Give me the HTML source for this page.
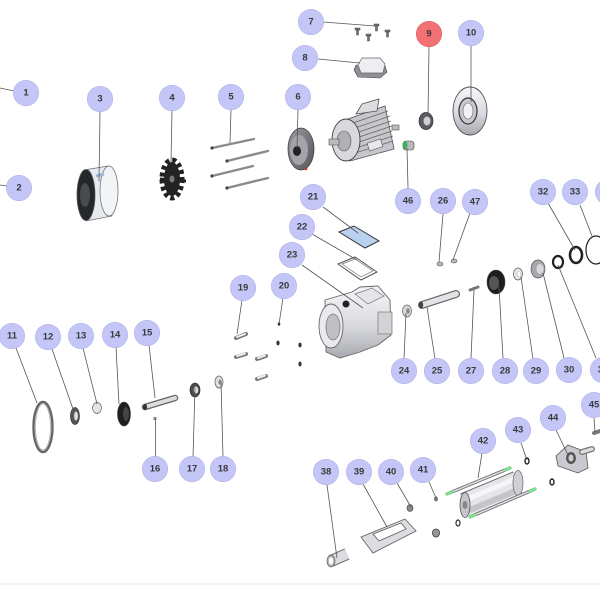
<!DOCTYPE html>
<html><head><meta charset="utf-8"><style>
html,body{margin:0;padding:0;background:#fff;}
svg{display:block;}
text{font-family:"Liberation Sans",sans-serif;font-weight:bold;font-size:9.5px;fill:#3a3a3a;text-anchor:middle;dominant-baseline:central;}
</style></head><body>
<svg width="600" height="600" viewBox="0 0 600 600" xmlns="http://www.w3.org/2000/svg">
<defs>
<linearGradient id="mv" x1="0" y1="0" x2="0" y2="1"><stop offset="0" stop-color="#f5f6f8"/><stop offset="0.55" stop-color="#d9dadf"/><stop offset="1" stop-color="#a8aab0"/></linearGradient>
<linearGradient id="dk" x1="0" y1="0" x2="1" y2="1"><stop offset="0" stop-color="#9a9ba0"/><stop offset="1" stop-color="#55565a"/></linearGradient>
</defs>
<rect width="600" height="600" fill="#fff"/>
<line x1="0" y1="584" x2="600" y2="584" stroke="#eeeeee" stroke-width="1.5"/>

<!-- Part 3 fan cover -->
<polygon points="84,170 108,166 112,216 86,221" fill="#e6ebf2" stroke="#666" stroke-width="0.7"/>
<ellipse cx="109" cy="191" rx="9" ry="25" fill="#f2f4f7" stroke="#777" stroke-width="0.8"/>
<ellipse cx="86" cy="195" rx="9" ry="25.5" fill="#26272b" stroke="#555" stroke-width="0.8"/>
<ellipse cx="85" cy="195" rx="5" ry="12" fill="#4a4b50"/>
<line x1="96" y1="176" x2="104" y2="174" stroke="#9fb6d8" stroke-width="3"/>

<!-- Part 4 fan -->
<ellipse cx="172" cy="179" rx="10" ry="19" fill="none" stroke="#222" stroke-width="5" stroke-dasharray="4 3"/>
<ellipse cx="172" cy="179" rx="8" ry="17" fill="#232326"/>
<line x1="160" y1="179" x2="186" y2="181" stroke="#232326" stroke-width="3"/>
<ellipse cx="172" cy="179" rx="2.5" ry="3.5" fill="#777"/>

<!-- Part 5 rods -->
<g stroke="#8a8b90" stroke-width="2.4" stroke-linecap="round">
<line x1="212" y1="148" x2="254" y2="139"/>
<line x1="227" y1="161" x2="268" y2="151"/>
<line x1="212" y1="176" x2="253" y2="166"/>
<line x1="227" y1="188" x2="268" y2="178"/>
</g>
<g fill="#444"><circle cx="212" cy="148" r="1.6"/><circle cx="227" cy="161" r="1.6"/><circle cx="212" cy="176" r="1.6"/><circle cx="227" cy="188" r="1.6"/></g>

<!-- Part 6 end shield -->
<ellipse cx="301" cy="149" rx="13" ry="21" fill="url(#dk)" stroke="#444" stroke-width="0.8"/>
<ellipse cx="299" cy="150" rx="9" ry="15" fill="#a3a4a9"/>
<ellipse cx="297" cy="151" rx="4" ry="5" fill="#222"/>
<circle cx="306" cy="169" r="1.3" fill="#c33"/>

<!-- Motor -->
<polygon points="345,120 385,106 394,149 350,161" fill="#c6c7cc" stroke="#555" stroke-width="0.8"/>
<g stroke="#666" stroke-width="0.8">
<line x1="350" y1="124" x2="388" y2="111"/><line x1="352" y1="129" x2="390" y2="116"/><line x1="353" y1="134" x2="391" y2="121"/><line x1="353" y1="139" x2="392" y2="126"/><line x1="353" y1="144" x2="392" y2="131"/><line x1="353" y1="149" x2="393" y2="136"/><line x1="352" y1="154" x2="393" y2="141"/>
</g>
<polygon points="356,114 362,104 379,99 377,111" fill="#dcdde1" stroke="#555" stroke-width="0.8"/>
<rect x="368" y="141" width="14" height="8" fill="#e8e8ea" stroke="#555" stroke-width="0.6" transform="rotate(-18 375 145)"/>
<ellipse cx="346" cy="140" rx="14" ry="21" fill="#d8d9dd" stroke="#444" stroke-width="0.9"/>
<ellipse cx="344" cy="141" rx="7" ry="10" fill="#b0b1b6" stroke="#555" stroke-width="0.6"/>
<rect x="329" y="139" width="10" height="6" fill="#bbb" stroke="#555" stroke-width="0.6"/>
<rect x="392" y="125" width="7" height="5" fill="#bbb" stroke="#555" stroke-width="0.6"/>

<!-- Part 7 screws -->
<g fill="#777" stroke="#444" stroke-width="0.5">
<rect x="355" y="28" width="5" height="2"/><rect x="356.5" y="30" width="2" height="5"/>
<rect x="366" y="34" width="5" height="2"/><rect x="367.5" y="36" width="2" height="5"/>
<rect x="374" y="24" width="5" height="2"/><rect x="375.5" y="26" width="2" height="5"/>
<rect x="385" y="30" width="5" height="2"/><rect x="386.5" y="32" width="2" height="5"/>
</g>

<!-- Part 8 terminal cover -->
<polygon points="354,70 356,65 385,66 387,72 380,78 358,77" fill="#8f9095" stroke="#444" stroke-width="0.6"/>
<polygon points="358,65 362,58 380,58 385,64 383,73 361,73" fill="#eceef1" stroke="#666" stroke-width="0.7"/>

<!-- Part 9 ring -->
<ellipse cx="426" cy="121" rx="7" ry="8.5" fill="#5a5b60" stroke="#333" stroke-width="0.7"/>
<ellipse cx="427" cy="121" rx="3.5" ry="4.5" fill="#d0d1d5"/>

<!-- Part 10 flange -->
<ellipse cx="470" cy="111" rx="17" ry="24" fill="url(#mv)" stroke="#555" stroke-width="0.9"/>
<ellipse cx="468" cy="111" rx="9" ry="13" fill="#c8c9ce" stroke="#333" stroke-width="1.2"/>
<ellipse cx="468" cy="111" rx="5" ry="8" fill="#f2f2f4" stroke="#666" stroke-width="0.6"/>

<!-- Part 46 -->
<rect x="403" y="141" width="11" height="9" rx="3" fill="#b8b9bd" stroke="#444" stroke-width="0.6"/>
<ellipse cx="405" cy="145" rx="2.5" ry="4" fill="#3fae5a"/>

<!-- Part 21 plate -->
<polygon points="339,232 354,226 379,241 365,248" fill="#b9d0ee" stroke="#333" stroke-width="1"/>
<!-- Part 22 gasket -->
<polygon points="338,264 355,257 377,272 361,280" fill="none" stroke="#555" stroke-width="1"/>
<polygon points="342,264 355,259 373,271 361,277" fill="none" stroke="#777" stroke-width="0.7"/>

<!-- Part 23 housing -->
<polygon points="325,300 352,292 360,287 378,286 390,300 391,335 378,345 360,352 340,358 326,352" fill="url(#mv)" stroke="#666" stroke-width="0.9"/>
<polygon points="355,294 372,288 384,296 368,304" fill="#e4e5e8" stroke="#777" stroke-width="0.7"/>
<ellipse cx="331" cy="326" rx="12" ry="22" fill="#e9eaed" stroke="#666" stroke-width="0.9"/>
<ellipse cx="333" cy="327" rx="7" ry="13" fill="#bfc0c5" stroke="#777" stroke-width="0.7"/>
<circle cx="346" cy="304" r="3.5" fill="#222"/>
<rect x="378" y="312" width="14" height="22" fill="#d2d3d7" stroke="#777" stroke-width="0.7"/>

<!-- Part 19 bolts -->
<g stroke="#777" stroke-width="4" stroke-linecap="round">
<line x1="236" y1="338" x2="246" y2="334"/><line x1="236" y1="357" x2="246" y2="354"/>
<line x1="257" y1="359" x2="266" y2="356"/><line x1="257" y1="379" x2="266" y2="376"/>
</g>
<g stroke="#eee" stroke-width="2" stroke-linecap="round">
<line x1="237" y1="337" x2="245" y2="334"/><line x1="237" y1="356" x2="245" y2="353.5"/>
<line x1="258" y1="358" x2="265" y2="355.5"/><line x1="258" y1="378" x2="265" y2="375.5"/>
</g>
<!-- Part 20 nuts -->
<g fill="#333"><ellipse cx="279" cy="324" rx="1.3" ry="1.8"/><ellipse cx="278" cy="343" rx="1.6" ry="2.4"/><ellipse cx="300" cy="345" rx="1.6" ry="2.4"/><ellipse cx="300" cy="364" rx="1.6" ry="2.4"/></g>

<!-- Part 11 ring -->
<ellipse cx="43" cy="427" rx="9.5" ry="25" fill="none" stroke="#666" stroke-width="2.4"/>
<ellipse cx="43" cy="427" rx="7.5" ry="23" fill="none" stroke="#aaa" stroke-width="0.8"/>
<!-- 12 -->
<ellipse cx="75" cy="416" rx="4.5" ry="8.5" fill="#555" stroke="#222" stroke-width="0.6"/>
<ellipse cx="76" cy="416" rx="2" ry="4.5" fill="#ddd"/>
<!-- 13 -->
<ellipse cx="97" cy="408" rx="4.5" ry="5.5" fill="#e3e4e8" stroke="#666" stroke-width="0.7"/>
<!-- 14 -->
<ellipse cx="124" cy="414" rx="6.5" ry="12" fill="#1e1f22" stroke="#444" stroke-width="0.6"/>
<ellipse cx="126" cy="414" rx="3" ry="7" fill="#444"/>
<!-- 15 shaft -->
<line x1="145" y1="407" x2="175" y2="398" stroke="#666" stroke-width="6.5" stroke-linecap="round"/>
<line x1="145" y1="407" x2="175" y2="398" stroke="#dcdde1" stroke-width="4" stroke-linecap="round"/>
<ellipse cx="145" cy="407" rx="2" ry="3" fill="#333"/>
<!-- 16 -->
<rect x="153.5" y="417" width="3" height="3" fill="#888"/>
<!-- 17 -->
<ellipse cx="195" cy="390" rx="5" ry="7" fill="#4c4d52" stroke="#222" stroke-width="0.6"/>
<ellipse cx="196" cy="390" rx="2.3" ry="3.5" fill="#ddd"/>
<!-- 18 -->
<ellipse cx="219" cy="382" rx="4" ry="6" fill="#e0e1e5" stroke="#666" stroke-width="0.8"/>
<ellipse cx="220" cy="382" rx="1.6" ry="2.6" fill="#888"/>

<!-- 24 -->
<ellipse cx="407" cy="311" rx="4.5" ry="6" fill="#d6d7db" stroke="#666" stroke-width="0.7"/>
<ellipse cx="408" cy="311" rx="1.8" ry="2.8" fill="#888"/>
<!-- 25 shaft -->
<line x1="422" y1="305" x2="456" y2="294" stroke="#666" stroke-width="8" stroke-linecap="round"/>
<line x1="422" y1="305" x2="456" y2="294" stroke="#e2e3e7" stroke-width="5.5" stroke-linecap="round"/>
<ellipse cx="421" cy="305" rx="2.2" ry="3.5" fill="#444"/>
<!-- 26, 47 -->
<ellipse cx="440" cy="264" rx="3" ry="2" fill="#bbb" stroke="#555" stroke-width="0.6"/>
<ellipse cx="454" cy="261" rx="3" ry="2" fill="#bbb" stroke="#555" stroke-width="0.6"/>
<!-- 27 pin -->
<line x1="470" y1="290" x2="478" y2="287" stroke="#777" stroke-width="3" stroke-linecap="round"/>
<!-- 28 bearing -->
<ellipse cx="496" cy="282" rx="9" ry="12" fill="#1d1e21" stroke="#444" stroke-width="0.6"/>
<ellipse cx="494" cy="283" rx="5" ry="7" fill="#555"/>
<!-- 29 -->
<ellipse cx="518" cy="274" rx="4.5" ry="6" fill="#e6e7ea" stroke="#666" stroke-width="0.8"/>
<ellipse cx="519" cy="274" rx="2" ry="3" fill="#fff" stroke="#999" stroke-width="0.5"/>
<!-- 30 -->
<ellipse cx="538" cy="269" rx="7" ry="9" fill="#a8a9ae" stroke="#555" stroke-width="0.7"/>
<ellipse cx="540" cy="269" rx="3.5" ry="5" fill="#d8d9dc"/>
<!-- 31 -->
<ellipse cx="558" cy="262" rx="5" ry="6" fill="none" stroke="#222" stroke-width="2.2"/>
<!-- 32 -->
<ellipse cx="576" cy="255" rx="6" ry="8" fill="none" stroke="#222" stroke-width="2.6"/>
<!-- 33 O-ring -->
<ellipse cx="596" cy="250" rx="10" ry="14" fill="none" stroke="#222" stroke-width="1.2"/>

<!-- 38 -->
<line x1="331" y1="561" x2="347" y2="554" stroke="#666" stroke-width="12"/>
<line x1="331" y1="561" x2="347" y2="554" stroke="#dcdde1" stroke-width="10"/>
<ellipse cx="331" cy="561" rx="4" ry="6" fill="#bbb" stroke="#555" stroke-width="0.7"/>
<ellipse cx="331" cy="561" rx="2" ry="3.5" fill="#fff"/>
<!-- 39 frame -->
<path d="M361,537 L405,519 L416,531 L373,553 Z M373,534 L401,523 L406,529 L379,541 Z" fill="#dcdde1" fill-rule="evenodd" stroke="#666" stroke-width="0.9"/>
<!-- 40,41, nuts -->
<ellipse cx="410" cy="508" rx="3" ry="3.5" fill="#888" stroke="#333" stroke-width="0.6"/>
<ellipse cx="436" cy="499" rx="2" ry="2.5" fill="#777"/>
<ellipse cx="436" cy="533" rx="3.5" ry="4" fill="#999" stroke="#333" stroke-width="0.8"/>
<ellipse cx="458" cy="523" rx="2" ry="3" fill="none" stroke="#333" stroke-width="1.2"/>
<ellipse cx="527" cy="461" rx="2" ry="3" fill="none" stroke="#222" stroke-width="1.4"/>
<ellipse cx="552" cy="482" rx="2" ry="3" fill="none" stroke="#222" stroke-width="1.4"/>
<!-- 42 cylinder -->
<line x1="447" y1="494" x2="510" y2="468" stroke="#666" stroke-width="3.2" stroke-linecap="round"/>
<line x1="447" y1="494" x2="510" y2="468" stroke="#ddd" stroke-width="1.6"/>
<line x1="465" y1="505" x2="518" y2="483" stroke="#666" stroke-width="25"/>
<line x1="465" y1="505" x2="518" y2="483" stroke="#e4e5e8" stroke-width="23"/>
<line x1="465" y1="500" x2="518" y2="478" stroke="#f6f6f8" stroke-width="5"/>
<line x1="465" y1="512" x2="518" y2="490" stroke="#c4c5ca" stroke-width="6"/>
<ellipse cx="518" cy="483" rx="5" ry="12.5" fill="#cfd0d4" stroke="#666" stroke-width="0.7"/>
<ellipse cx="465" cy="505" rx="5" ry="12.5" fill="#c4c5ca" stroke="#555" stroke-width="0.8"/>
<ellipse cx="465" cy="505" rx="2.5" ry="4" fill="#888"/>
<line x1="470" y1="517" x2="535" y2="489" stroke="#666" stroke-width="3.2" stroke-linecap="round"/>
<line x1="470" y1="517" x2="535" y2="489" stroke="#ddd" stroke-width="1.6"/>
<g stroke="#7fe08f" stroke-width="3" stroke-linecap="round">
<line x1="447" y1="494" x2="452" y2="492"/><line x1="505" y1="470" x2="510" y2="468"/>
<line x1="470" y1="517" x2="475" y2="515"/><line x1="530" y1="491" x2="535" y2="489"/>
</g>
<!-- 44 flange -->
<polygon points="556,456 568,445 586,452 588,468 578,473 558,466" fill="#c9cacf" stroke="#555" stroke-width="0.8"/>
<ellipse cx="571" cy="458" rx="5" ry="6" fill="#555"/>
<ellipse cx="571" cy="458" rx="2.5" ry="3.5" fill="#ccc"/>
<line x1="582" y1="452" x2="592" y2="449" stroke="#777" stroke-width="6" stroke-linecap="round"/>
<line x1="582" y1="452" x2="592" y2="449" stroke="#ddd" stroke-width="3.5" stroke-linecap="round"/>
<!-- 45 bolt -->
<line x1="594" y1="433" x2="600" y2="431" stroke="#777" stroke-width="4" stroke-linecap="round"/>

<!-- Leader lines -->
<g stroke="#555" stroke-width="0.8" fill="none">
<line x1="14" y1="91" x2="0" y2="88"/>
<line x1="7" y1="186" x2="0" y2="185"/>
<line x1="100" y1="112" x2="99" y2="181"/>
<line x1="172" y1="111" x2="171" y2="162"/>
<line x1="231" y1="110" x2="230" y2="143"/>
<line x1="298" y1="110" x2="297" y2="148"/>
<line x1="323" y1="22" x2="375" y2="26"/>
<line x1="318" y1="59" x2="360" y2="63"/>
<line x1="429" y1="47" x2="428" y2="115"/>
<line x1="471" y1="46" x2="471" y2="102"/>
<line x1="408" y1="188" x2="407" y2="148"/>
<line x1="443" y1="214" x2="439" y2="262"/>
<line x1="470" y1="213" x2="453" y2="260"/>
<line x1="548" y1="203" x2="575" y2="250"/>
<line x1="580" y1="205" x2="592" y2="236"/>
<line x1="323" y1="207" x2="358" y2="233"/>
<line x1="312" y1="234" x2="357" y2="260"/>
<line x1="302" y1="265" x2="363" y2="308"/>
<line x1="242" y1="300" x2="237" y2="334"/>
<line x1="283" y1="298" x2="279" y2="324"/>
<line x1="404" y1="359" x2="406" y2="313"/>
<line x1="435" y1="359" x2="427" y2="307"/>
<line x1="471" y1="358" x2="474" y2="290"/>
<line x1="503" y1="358" x2="499" y2="287"/>
<line x1="533" y1="359" x2="521" y2="277"/>
<line x1="564" y1="358" x2="543" y2="273"/>
<line x1="596" y1="358" x2="558" y2="265"/>
<line x1="16" y1="348" x2="37" y2="403"/>
<line x1="52" y1="349" x2="73" y2="409"/>
<line x1="83" y1="348" x2="97" y2="404"/>
<line x1="116" y1="347" x2="119" y2="404"/>
<line x1="149" y1="345" x2="155" y2="398"/>
<line x1="155.5" y1="457" x2="155.5" y2="419"/>
<line x1="193" y1="457" x2="195" y2="388"/>
<line x1="223" y1="457" x2="221" y2="382"/>
<line x1="327" y1="485" x2="337" y2="558"/>
<line x1="363" y1="484" x2="387" y2="527"/>
<line x1="397" y1="483" x2="411" y2="507"/>
<line x1="429" y1="482" x2="436" y2="498"/>
<line x1="482" y1="453" x2="478" y2="478"/>
<line x1="521" y1="443" x2="527" y2="460"/>
<line x1="556" y1="430" x2="568" y2="455"/>
<line x1="594" y1="418" x2="595" y2="432"/>
</g>

<!-- Badges -->
<g fill="#c5c6f8" stroke="#b2b3e6" stroke-width="0.6">
<circle cx="26" cy="93" r="12.7"/><circle cx="19" cy="188" r="12.7"/>
<circle cx="100" cy="99" r="12.7"/><circle cx="172" cy="98" r="12.7"/>
<circle cx="231" cy="97" r="12.7"/><circle cx="298" cy="97" r="12.7"/>
<circle cx="311" cy="22" r="12.7"/><circle cx="305" cy="58" r="12.7"/>
<circle cx="471" cy="33" r="12.7"/>
<circle cx="408" cy="201" r="12.7"/><circle cx="443" cy="201" r="12.7"/><circle cx="475" cy="202" r="12.7"/>
<circle cx="543" cy="192" r="12.7"/><circle cx="575" cy="192" r="12.7"/><circle cx="608" cy="192" r="12.7"/>
<circle cx="313" cy="197" r="12.7"/><circle cx="302" cy="227" r="12.7"/><circle cx="292" cy="255" r="12.7"/>
<circle cx="243" cy="288" r="12.7"/><circle cx="284" cy="286" r="12.7"/>
<circle cx="404" cy="371" r="12.7"/><circle cx="437" cy="371" r="12.7"/><circle cx="471" cy="371" r="12.7"/>
<circle cx="505" cy="371" r="12.7"/><circle cx="536" cy="371" r="12.7"/><circle cx="569" cy="370" r="12.7"/><circle cx="603" cy="370" r="12.7"/>
<circle cx="12" cy="336" r="12.7"/><circle cx="48" cy="337" r="12.7"/><circle cx="81" cy="336" r="12.7"/>
<circle cx="115" cy="335" r="12.7"/><circle cx="147" cy="333" r="12.7"/>
<circle cx="155" cy="469" r="12.7"/><circle cx="192" cy="469" r="12.7"/><circle cx="223" cy="469" r="12.7"/>
<circle cx="326" cy="472" r="12.7"/><circle cx="359" cy="472" r="12.7"/><circle cx="391" cy="472" r="12.7"/><circle cx="423" cy="470" r="12.7"/>
<circle cx="483" cy="441" r="12.7"/><circle cx="518" cy="430" r="12.7"/><circle cx="553" cy="418" r="12.7"/><circle cx="594" cy="405" r="12.7"/>
</g>
<circle cx="429" cy="34" r="12.7" fill="#f37173" stroke="#e06062" stroke-width="0.6"/>

<text x="26" y="93">1</text><text x="19" y="188">2</text>
<text x="100" y="99">3</text><text x="172" y="98">4</text>
<text x="231" y="97">5</text><text x="298" y="97">6</text>
<text x="311" y="22">7</text><text x="305" y="58">8</text>
<text x="429" y="34">9</text><text x="471" y="33">10</text>
<text x="408" y="201">46</text><text x="443" y="201">26</text><text x="475" y="202">47</text>
<text x="543" y="192">32</text><text x="575" y="192">33</text><text x="608" y="192">34</text>
<text x="313" y="197">21</text><text x="302" y="227">22</text><text x="292" y="255">23</text>
<text x="243" y="288">19</text><text x="284" y="286">20</text>
<text x="404" y="371">24</text><text x="437" y="371">25</text><text x="471" y="371">27</text>
<text x="505" y="371">28</text><text x="536" y="371">29</text><text x="569" y="370">30</text><text x="603" y="370">31</text>
<text x="12" y="336">11</text><text x="48" y="337">12</text><text x="81" y="336">13</text>
<text x="115" y="335">14</text><text x="147" y="333">15</text>
<text x="155" y="469">16</text><text x="192" y="469">17</text><text x="223" y="469">18</text>
<text x="326" y="472">38</text><text x="359" y="472">39</text><text x="391" y="472">40</text><text x="423" y="470">41</text>
<text x="483" y="441">42</text><text x="518" y="430">43</text><text x="553" y="418">44</text><text x="594" y="405">45</text>
</svg>
</body></html>
